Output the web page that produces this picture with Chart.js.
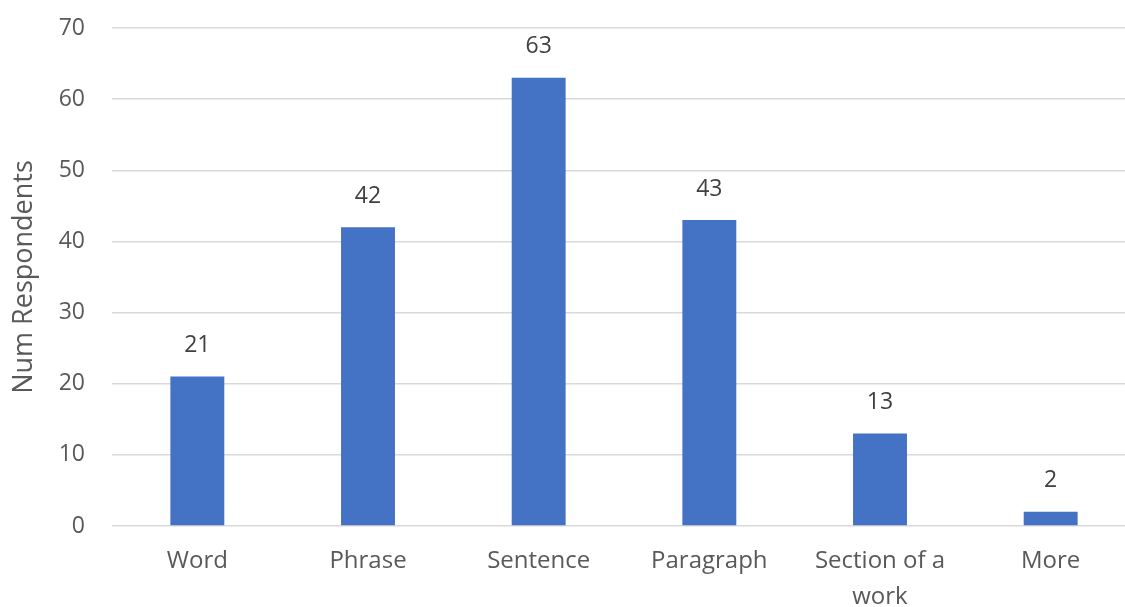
<!DOCTYPE html>
<html>
<head>
<meta charset="utf-8">
<script src="https://cdn.jsdelivr.net/npm/chart.js@4"></script>
<style>
  html, body { margin:0; padding:0; background:#fff; overflow:hidden; }
  #wrap { width:1136px; height:607px; }
</style>
</head>
<body>
<div id="wrap"><canvas id="c"></canvas></div>
<script>
const categories = ['Word', 'Phrase', 'Sentence', 'Paragraph', ['Section of a', 'work'], 'More'];
const respondents = [21, 42, 63, 43, 13, 2];
const yTicks = [0, 10, 20, 30, 40, 50, 60, 70];

const FONT = "'Open Sans', sans-serif";
const GREY = '#595959';

// value labels above the bars
const barLabels = {
  id: 'barLabels',
  afterDatasetsDraw(chart){
    const ctx = chart.ctx;
    const meta = chart.getDatasetMeta(0);
    ctx.save();
    ctx.font = '23px ' + FONT;
    ctx.fillStyle = '#404040';
    ctx.textAlign = 'center';
    ctx.textBaseline = 'middle';
    meta.data.forEach((bar, i) => {
      ctx.fillText(String(respondents[i]), bar.x, bar.y - 31);
    });
    ctx.restore();
  }
};

new Chart(document.getElementById('c'), {
  type: 'bar',
  data: {
    labels: categories,
    datasets: [{ data: respondents, backgroundColor: '#4472C4', barPercentage: 0.316, categoryPercentage: 1 }]
  },
  options: {
    responsive: true,
    maintainAspectRatio: false,
    animation: false,
    layout: { padding: { top: 28, right: 0, left: 0, bottom: 0 } },
    plugins: { legend: { display: false }, tooltip: { enabled: false } },
    scales: {
      x: {
        grid: { display: false, drawTicks: false },
        border: { display: false },
        ticks: { color: GREY, font: { family: FONT, size: 24, lineHeight: 1.5 }, padding: 17, maxRotation: 0, autoSkip: false },
        afterFit(s){ s.height = 81; }
      },
      y: {
        min: 0, max: 70,
        afterBuildTicks(s){ s.ticks = yTicks.map(v => ({ value: v })); },
        grid: { color: '#D9D9D9', lineWidth: 1.5, drawTicks: false },
        border: { display: false },
        ticks: { color: GREY, font: { family: FONT, size: 23 }, padding: 27 },
        title: { display: true, text: 'Num Respondents', color: GREY, font: { family: FONT, size: 27 }, padding: { top: 8, bottom: 0 } },
        afterFit(s){ s.width = 112; s.paddingTop = 0; s.paddingBottom = 0; }
      }
    }
  },
  plugins: [barLabels]
});
</script>
</body>
</html>
